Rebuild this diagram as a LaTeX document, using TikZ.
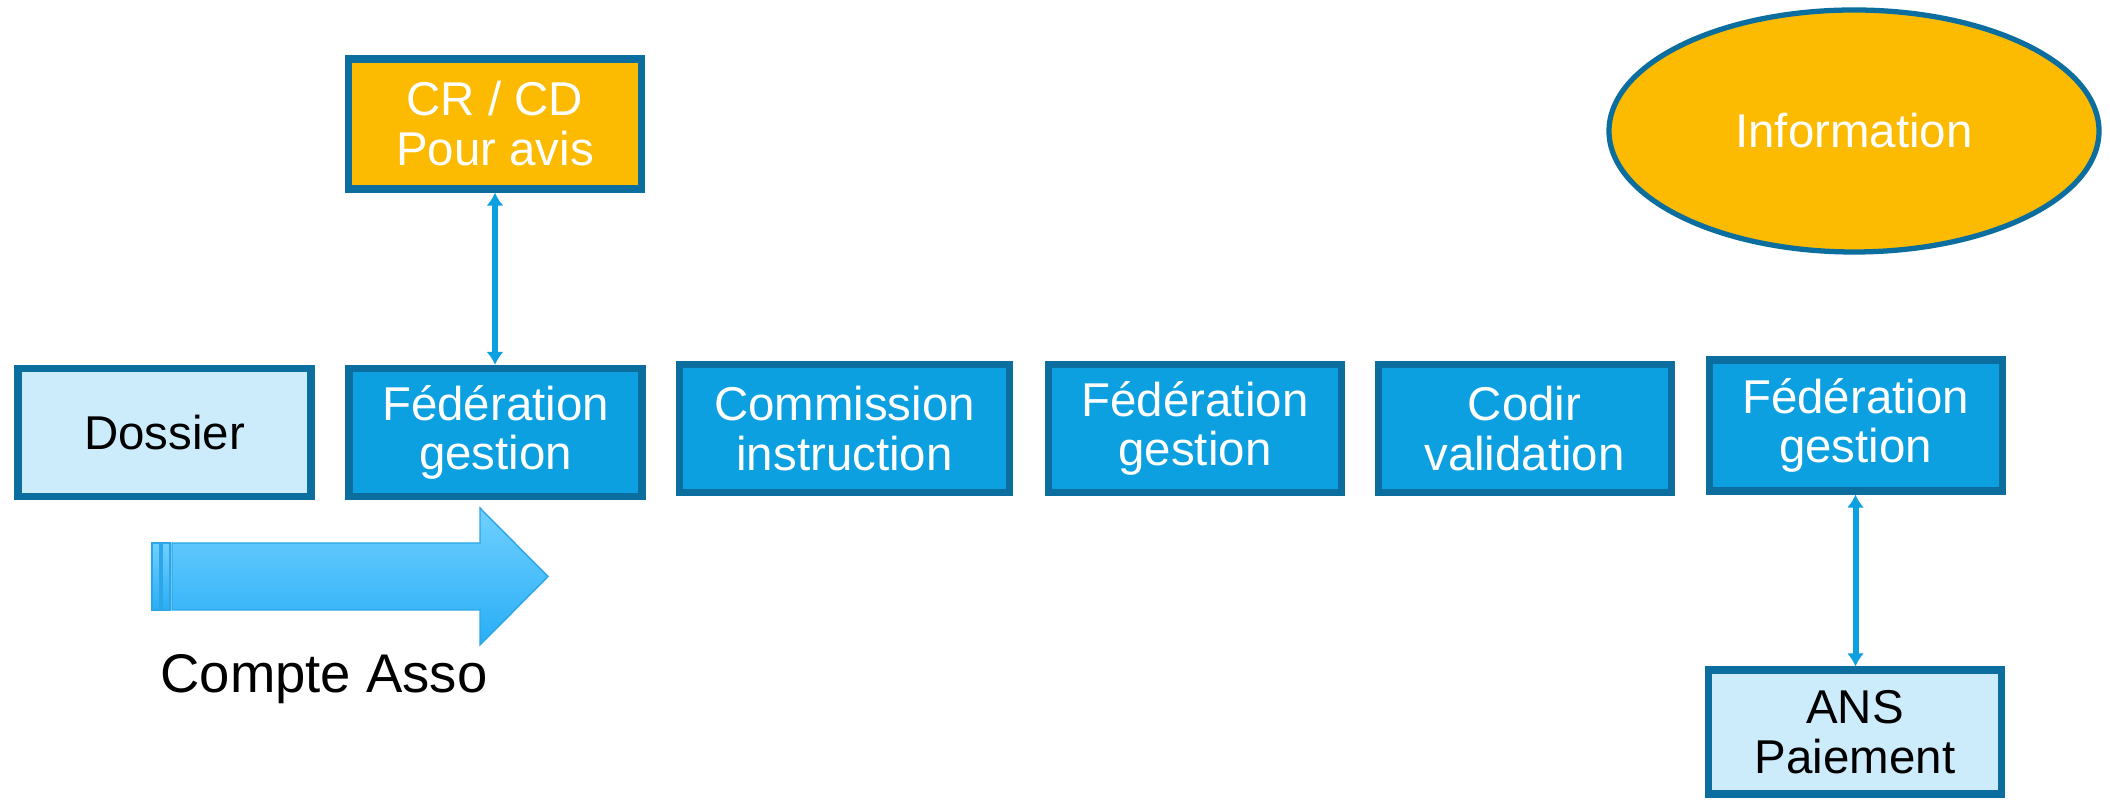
\documentclass[tikz,border=0pt]{standalone}
\usepackage{fontspec}
\setmainfont{Liberation Sans}
\usepackage{tikz}
\usetikzlibrary{positioning,shapes.geometric,arrows.meta}
\usepackage{xcolor}
\definecolor{boxblue}{RGB}{13,160,225}
\definecolor{boxedge}{RGB}{12,110,158}
\definecolor{boxlight}{RGB}{205,236,251}
\definecolor{avisorange}{RGB}{252,187,0}
\definecolor{arrowtop}{RGB}{112,208,255}
\definecolor{arrowbot}{RGB}{40,174,246}
\definecolor{arrowedge}{RGB}{44,166,230}
\tikzset{
  stepbox/.style={draw=boxedge, line width=2pt, fill=boxblue, text=white,
    minimum width=2.93cm, minimum height=1.28cm, align=center, inner sep=1pt,
    font=\fontsize{13.5}{14.2}\selectfont},
  lightbox/.style={stepbox, fill=boxlight, text=black},
  avisbox/.style={stepbox, fill=avisorange},
  infoell/.style={ellipse, draw=boxedge, line width=1.5pt, fill=avisorange, text=white,
    minimum width=4.9cm, minimum height=2.42cm, inner sep=0pt,
    font=\fontsize{13.5}{14.2}\selectfont},
  conn/.style={draw=boxblue, line width=1.7pt, {Latex[length=0.13cm,width=0.17cm]}-{Latex[length=0.13cm,width=0.17cm]}}
}
\begin{document}
\begin{tikzpicture}
\useasboundingbox (0,0) rectangle (21.1,8);
% main row
\node [lightbox] (dossier) at (1.645, 3.675) {Dossier};
\node [stepbox] (fed1) at (4.955, 3.675) {Fédération\\gestion};
\node [stepbox, minimum width=3.30cm] (comm) at (8.445, 3.715) {Commission\\instruction};
\node [stepbox] (fed2) at (11.95, 3.715) {Fédération\\gestion};
\node [stepbox] (codir) at (15.245, 3.715) {Codir\\validation};
\node [stepbox, minimum height=1.31cm] (fed3) at (18.555, 3.745) {Fédération\\gestion};
% avis, information, paiement
\node [avisbox, minimum height=1.30cm] (avis) at (4.95, 6.76) {CR / CD\\Pour avis};
\node [infoell] (info) at (18.54, 6.69) {Information};
\node [lightbox, minimum height=1.24cm] (ans) at (18.55, 0.68) {ANS\\Paiement};
\draw [conn] (avis.south) -- (avis.south |- fed1.north);
\draw [conn] (fed3.south) -- (fed3.south |- ans.north);
% striped arrow
\draw [arrowedge, line width=0.4pt, top color=arrowtop, bottom color=arrowbot]
  (1.72, 2.57) -- (4.80, 2.57) -- (4.80, 2.92) -- (5.48, 2.235)
  -- (4.80, 1.55) -- (4.80, 1.90) -- (1.72, 1.90) -- cycle;
\draw [arrowedge, line width=0.4pt, top color=arrowtop, bottom color=arrowbot]
  (1.52, 2.57) rectangle (1.60, 1.90);
\draw [arrowedge, line width=0.4pt, top color=arrowtop, bottom color=arrowbot]
  (1.62, 2.57) rectangle (1.70, 1.90);
\node [anchor=base, font=\fontsize{15.5}{18}\selectfont] (compte) at (3.24, 1.07) {Compte Asso};
\end{tikzpicture}
\end{document}
